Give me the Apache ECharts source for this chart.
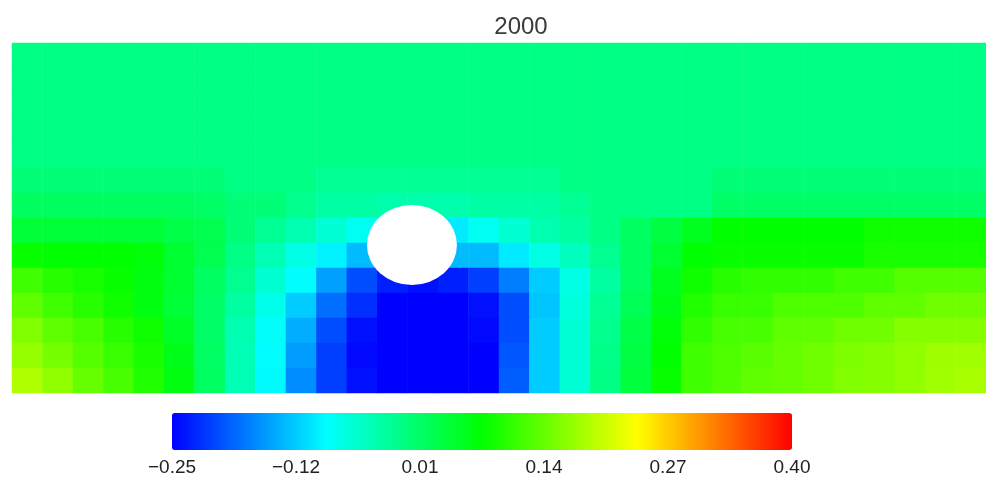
<!DOCTYPE html>
<html>
<head>
<meta charset="utf-8">
<script src="https://cdn.jsdelivr.net/npm/echarts@6/dist/echarts.min.js"></script>
<style>
  html, body { margin: 0; padding: 0; background: #fff; }
  #main { width: 986px; height: 481px; }
</style>
</head>
<body>
<div id="main"></div>
<script>
// snapshot title (time step)
var titleText = '2000';

// colour bar range and tick labels
var valueMin = -0.25;
var valueMax = 0.40;
var tickLabels = ['\u22120.25', '\u22120.12', '0.01', '0.14', '0.27', '0.40'];

// field values, one row per band, top to bottom (32 columns)
var field = [
  [-0.01,-0.01,-0.01,-0.01,-0.01,-0.01,-0.01,-0.01,-0.01,-0.01,-0.01,-0.01,-0.01,-0.01,-0.01,-0.01,-0.01,-0.01,-0.01,-0.01,-0.01,-0.01,-0.01,-0.01,-0.01,-0.01,-0.01,-0.01,-0.01,-0.01,-0.01,-0.01],
  [-0.01,-0.01,-0.01,-0.01,-0.01,-0.01,-0.01,-0.01,-0.01,-0.01,-0.01,-0.01,-0.01,-0.01,-0.01,-0.01,-0.01,-0.01,-0.01,-0.01,-0.01,-0.01,-0.01,-0.01,-0.01,-0.01,-0.01,-0.01,-0.01,-0.01,-0.01,-0.01],
  [-0.01,-0.01,-0.01,-0.01,-0.01,-0.01,-0.01,-0.01,-0.01,-0.01,-0.01,-0.01,-0.01,-0.01,-0.01,-0.01,-0.01,-0.01,-0.01,-0.01,-0.01,-0.01,-0.01,-0.01,-0.01,-0.01,-0.01,-0.01,-0.01,-0.01,-0.01,-0.01],
  [-0.01,-0.01,-0.01,-0.01,-0.01,-0.01,-0.01,-0.01,-0.01,-0.01,-0.01,-0.01,-0.01,-0.01,-0.01,-0.01,-0.01,-0.01,-0.01,-0.01,-0.01,-0.01,-0.01,-0.01,-0.01,-0.01,-0.01,-0.01,-0.01,-0.01,-0.01,-0.01],
  [-0.01,-0.01,-0.01,-0.01,-0.01,-0.01,-0.01,-0.01,-0.01,-0.01,-0.01,-0.01,-0.01,-0.01,-0.01,-0.01,-0.01,-0.01,-0.01,-0.01,-0.01,-0.01,-0.01,-0.01,-0.01,-0.01,-0.01,-0.01,-0.01,-0.01,-0.01,-0.01],
  [0,0,0,0,0,0,0,-0.01,-0.01,-0.01,-0.02,-0.02,-0.02,-0.02,-0.02,-0.02,-0.02,-0.02,-0.01,-0.01,-0.01,-0.01,-0.01,0,0,0,0,0,0,0,0,0],
  [0.015,0.015,0.015,0.015,0.015,0.015,0.01,0,0,-0.015,-0.03,-0.03,-0.035,-0.035,-0.035,-0.03,-0.03,-0.03,-0.02,-0.01,-0.01,-0.01,-0.01,0.01,0.01,0.01,0.01,0.01,0.01,0.01,0.01,0.01],
  [0.04,0.04,0.04,0.04,0.04,0.03,0.025,0,-0.02,-0.037,-0.06,-0.08,-0.1,-0.1,-0.1,-0.08,-0.058,-0.037,-0.027,-0.01,0.014,0.034,0.055,0.075,0.075,0.075,0.075,0.075,0.085,0.085,0.085,0.085],
  [0.08,0.075,0.075,0.075,0.07,0.045,0.025,-0.01,-0.04,-0.07,-0.095,-0.13,-0.15,-0.15,-0.13,-0.13,-0.1,-0.07,-0.047,-0.017,0.014,0.044,0.075,0.08,0.08,0.08,0.08,0.08,0.09,0.09,0.09,0.09],
  [0.116,0.1,0.09,0.08,0.065,0.045,0.014,-0.017,-0.058,-0.088,-0.148,-0.2,-0.23,-0.24,-0.23,-0.21,-0.17,-0.12,-0.07,-0.027,0.014,0.055,0.085,0.1,0.105,0.105,0.105,0.115,0.115,0.13,0.13,0.13],
  [0.136,0.116,0.1,0.085,0.065,0.04,0.01,-0.027,-0.075,-0.12,-0.18,-0.22,-0.25,-0.25,-0.25,-0.24,-0.2,-0.125,-0.065,-0.02,0.02,0.06,0.095,0.11,0.11,0.125,0.125,0.125,0.136,0.136,0.146,0.146],
  [0.157,0.136,0.12,0.1,0.085,0.05,0.01,-0.037,-0.085,-0.14,-0.2,-0.24,-0.25,-0.25,-0.25,-0.245,-0.2,-0.12,-0.06,-0.015,0.03,0.07,0.105,0.12,0.12,0.136,0.136,0.146,0.146,0.16,0.16,0.16],
  [0.17,0.15,0.13,0.11,0.09,0.06,0.012,-0.04,-0.088,-0.15,-0.21,-0.245,-0.25,-0.25,-0.25,-0.25,-0.195,-0.12,-0.06,-0.012,0.032,0.075,0.115,0.125,0.132,0.14,0.146,0.155,0.16,0.167,0.175,0.177],
  [0.187,0.167,0.14,0.12,0.095,0.065,0.014,-0.04,-0.09,-0.16,-0.21,-0.24,-0.25,-0.25,-0.25,-0.25,-0.19,-0.12,-0.06,-0.01,0.035,0.08,0.115,0.126,0.136,0.14,0.146,0.157,0.16,0.167,0.177,0.182]
];

// cylinder (white hole) centre, in column / row units of the field grid
var obstacle = [13.14, 8.08];

var nCols = field[0].length;
var nRows = field.length;

var colNames = [];
for (var i = 0; i < nCols; i++) colNames.push(String(i));
var rowNames = [];
for (var j = 0; j < nRows; j++) rowNames.push(String(j));

var cells = [];
for (var r = 0; r < nRows; r++) {
  for (var c = 0; c < nCols; c++) {
    cells.push([c, r, field[r][c]]);
  }
}

var chart = echarts.init(document.getElementById('main'));

var font = "'Liberation Sans', Arial, sans-serif";

var option = {
  backgroundColor: '#fff',
  animation: false,
  title: {
    text: titleText,
    left: 516,
    top: 10,
    textAlign: 'center',
    textStyle: { fontFamily: font, fontSize: 24, fontWeight: 'normal', color: '#3a3a3a' }
  },
  grid: [
    { left: 12, top: 43, width: 974, height: 350 },
    { left: 172, top: 413, width: 620, height: 37 }
  ],
  xAxis: [
    { type: 'category', gridIndex: 0, data: colNames, show: false },
    { type: 'value', gridIndex: 0, min: 0, max: nCols, show: false },
    {
      type: 'category', gridIndex: 1, data: tickLabels, boundaryGap: false,
      axisLine: { show: false }, axisTick: { show: false }, splitLine: { show: false },
      axisLabel: { margin: 8, fontFamily: font, fontSize: 19, color: '#222', interval: 0 }
    }
  ],
  yAxis: [
    { type: 'category', gridIndex: 0, data: rowNames, inverse: true, show: false },
    { type: 'value', gridIndex: 0, min: 0, max: nRows, inverse: true, show: false },
    { type: 'value', gridIndex: 1, show: false }
  ],
  visualMap: {
    type: 'continuous',
    min: valueMin,
    max: valueMax,
    seriesIndex: 0,
    orient: 'horizontal',
    left: 172,
    top: 413,
    itemWidth: 37,
    itemHeight: 620,
    padding: 0,
    calculable: false,
    hoverLink: false,
    text: null,
    inRange: { color: ['#0000ff', '#00ffff', '#00ff00', '#ffff00', '#ff0000'] }
  },
  series: [
    {
      type: 'heatmap',
      xAxisIndex: 0,
      yAxisIndex: 0,
      data: cells,
      emphasis: { disabled: true },
      itemStyle: { borderWidth: 0 }
    },
    {
      type: 'scatter',
      xAxisIndex: 1,
      yAxisIndex: 1,
      data: [obstacle],
      symbol: 'circle',
      symbolSize: [90, 80],
      itemStyle: { color: '#ffffff', opacity: 1 },
      emphasis: { disabled: true },
      z: 5
    }
  ]
};

chart.setOption(option);
</script>
</body>
</html>
